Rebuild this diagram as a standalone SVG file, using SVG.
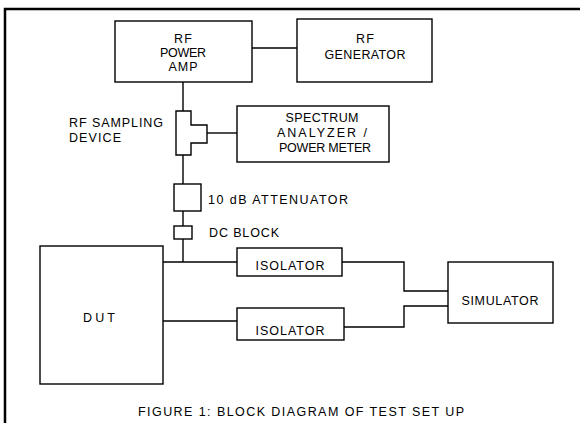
<svg xmlns="http://www.w3.org/2000/svg" width="580" height="423" viewBox="0 0 580 423">
<style>
.box{fill:#fff;stroke:#000;stroke-width:1.4}
.ln{fill:none;stroke:#000;stroke-width:1.4}
.frame{fill:none;stroke:#000;stroke-width:2.5}
text{font-family:"Liberation Sans","DejaVu Sans",sans-serif;font-size:12.5px;fill:#000}
.c{text-anchor:middle}
</style>
<rect width="580" height="423" fill="#fff"/>
<path class="frame" d="M5,423 V9 H580"/>
<g id="connectors">
<path class="ln" d="M252,48 H297"/>
<path class="ln" d="M183,82 V111"/>
<path class="ln" d="M207,133 H237"/>
<path class="ln" d="M183,155 V184"/>
<path class="ln" d="M183,211 V226"/>
<path class="ln" d="M183,239 V262"/>
<path class="ln" d="M163,262 H237"/>
<path class="ln" d="M163,321 H237"/>
<path class="ln" d="M342,262 H404 V291 H448"/>
<path class="ln" d="M344,327 H404 V306 H448"/>
</g>
<g id="rf-power-amp">
<rect class="box" x="115" y="21" width="137" height="61"/>
<text class="c" x="183" y="43" textLength="18">RF</text>
<text class="c" x="183" y="57" textLength="46">POWER</text>
<text class="c" x="183" y="71" textLength="29">AMP</text>
</g>
<g id="rf-generator">
<rect class="box" x="297" y="19" width="135" height="63"/>
<text class="c" x="365" y="43" textLength="18">RF</text>
<text class="c" x="365" y="59" textLength="81">GENERATOR</text>
</g>
<g id="rf-sampling-device">
<path class="box" d="M176,111 H191 V125 H207 V143 H191 V155 H176 Z"/>
<text x="69" y="127" textLength="94">RF SAMPLING</text>
<text x="69" y="142" textLength="52">DEVICE</text>
</g>
<g id="spectrum-analyzer">
<rect class="box" x="237" y="106" width="152" height="56"/>
<text class="c" x="322" y="122" textLength="73">SPECTRUM</text>
<text class="c" x="322" y="137" textLength="90">ANALYZER /</text>
<text class="c" x="325" y="152" textLength="92">POWER METER</text>
</g>
<g id="attenuator">
<rect class="box" x="174" y="184" width="27" height="27"/>
<text x="208" y="204" textLength="140">10 dB ATTENUATOR</text>
</g>
<g id="dc-block">
<rect class="box" x="174" y="226" width="18" height="13"/>
<text x="209" y="237" textLength="70">DC BLOCK</text>
</g>
<g id="dut">
<rect class="box" x="40" y="246" width="123" height="138"/>
<text class="c" x="99" y="322" textLength="32">DUT</text>
</g>
<g id="isolator-1">
<rect class="box" x="237" y="248" width="105" height="28"/>
<text class="c" x="290" y="270" textLength="69">ISOLATOR</text>
</g>
<g id="isolator-2">
<rect class="box" x="237" y="308" width="107" height="32"/>
<text class="c" x="290" y="335" textLength="69">ISOLATOR</text>
</g>
<g id="simulator">
<rect class="box" x="448" y="262" width="105" height="61"/>
<text class="c" x="500" y="305" textLength="77">SIMULATOR</text>
</g>
<text class="c" x="301" y="416" textLength="326">FIGURE 1: BLOCK DIAGRAM OF TEST SET UP</text>
</svg>
